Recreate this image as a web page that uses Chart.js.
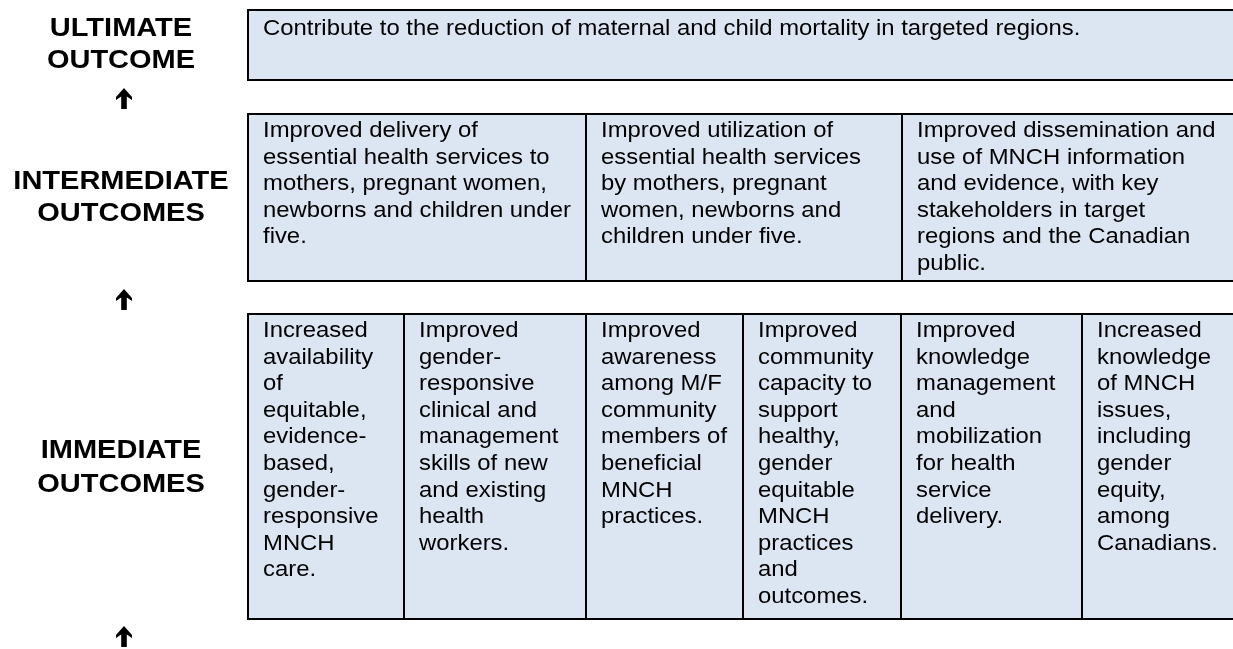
<!DOCTYPE html>
<html>
<head>
<meta charset="utf-8">
<script src="https://cdn.jsdelivr.net/npm/chart.js@4.4.1/dist/chart.umd.min.js"></script>
<style>
  html, body { margin: 0; padding: 0; background: #fff; }
  #wrap { width: 1233px; height: 649px; }
</style>
</head>
<body>
<div id="wrap"><canvas id="c"></canvas></div>
<script>
// --- content (text of each level, already broken into lines as in the source) ---
const levelLabels = [["ULTIMATE", "OUTCOME"], ["INTERMEDIATE", "OUTCOMES"], ["IMMEDIATE", "OUTCOMES"]];

const ultimateOutcome = [
  ["Contribute to the reduction of maternal and child mortality in targeted regions."]
];

const intermediateOutcomes = [
  ["Improved delivery of", "essential health services to", "mothers, pregnant women,", "newborns and children under", "five."],
  ["Improved utilization of", "essential health services", "by mothers, pregnant", "women, newborns and", "children under five."],
  ["Improved dissemination and", "use of MNCH information", "and evidence, with key", "stakeholders in target", "regions and the Canadian", "public."]
];

const immediateOutcomes = [
  ["Increased", "availability", "of", "equitable,", "evidence-", "based,", "gender-", "responsive", "MNCH", "care."],
  ["Improved", "gender-", "responsive", "clinical and", "management", "skills of new", "and existing", "health", "workers."],
  ["Improved", "awareness", "among M/F", "community", "members of", "beneficial", "MNCH", "practices."],
  ["Improved", "community", "capacity to", "support", "healthy,", "gender", "equitable", "MNCH", "practices", "and", "outcomes."],
  ["Improved", "knowledge", "management", "and", "mobilization", "for health", "service", "delivery."],
  ["Increased", "knowledge", "of MNCH", "issues,", "including", "gender", "equity,", "among", "Canadians."]
];

// --- layout, in the units of the chart's x / y scales ---
const rows = [
  { cells: ultimateOutcome,      edges: [248, 1234],                          top: 10,  bottom: 80,  textTop: 25, label: [36, 68],   arrow: 88 },
  { cells: intermediateOutcomes, edges: [248, 586, 902, 1234],                top: 114, bottom: 281, textTop: 23, label: [189, 221], arrow: 289 },
  { cells: immediateOutcomes,    edges: [248, 404, 586, 743, 901, 1082, 1234], top: 314, bottom: 619, textTop: 23, label: [458, 492], arrow: 626 }
];

const FILL = '#dce6f2';
const LINE = '#000000';
const CELL_FONT = '22px "Liberation Sans", Arial, sans-serif';
const LABEL_FONT = 'bold 25px "Liberation Sans", Arial, sans-serif';
const LINE_H = 26.6;

function stretchText(ctx, txt, x, y, sx) {
  ctx.save();
  ctx.translate(x, y);
  ctx.scale(sx, 1);
  ctx.fillText(txt, 0, 0);
  ctx.restore();
}

const logicModel = {
  id: 'logicModel',
  afterDraw(chart) {
    const ctx = chart.ctx;
    const xs = chart.scales.x, ys = chart.scales.y;
    const px = v => xs.getPixelForValue(v);
    const py = v => ys.getPixelForValue(v);

    rows.forEach((row, ri) => {
      const y0 = py(row.top), y1 = py(row.bottom);

      // cells
      row.cells.forEach((lines, ci) => {
        const x0 = px(row.edges[ci]), x1 = px(row.edges[ci + 1]);
        ctx.fillStyle = FILL;
        ctx.fillRect(x0, y0, x1 - x0, y1 - y0);
        ctx.strokeStyle = LINE;
        ctx.lineWidth = 2;
        ctx.strokeRect(x0, y0, x1 - x0, y1 - y0);

        ctx.fillStyle = '#000';
        ctx.font = CELL_FONT;
        ctx.textAlign = 'left';
        ctx.textBaseline = 'alphabetic';
        lines.forEach((ln, li) => {
          stretchText(ctx, ln, x0 + 15, py(row.top + row.textTop + li * LINE_H), 1.085);
        });
      });

      // level label
      ctx.fillStyle = '#000';
      ctx.font = LABEL_FONT;
      ctx.textAlign = 'center';
      levelLabels[ri].forEach((t, k) => stretchText(ctx, t, px(121), py(row.label[k]), 1.16));

      // heavy upward arrow under the label
      const ax = px(124), at = py(row.arrow);
      const ab = py(row.arrow + 21);
      ctx.beginPath();
      ctx.moveTo(ax, at);
      ctx.lineTo(ax + 8, at + 9);
      ctx.lineTo(ax + 8, at + 12);
      ctx.lineTo(ax + 2.8, at + 8.5);
      ctx.lineTo(ax + 2.8, ab);
      ctx.lineTo(ax - 2.8, ab);
      ctx.lineTo(ax - 2.8, at + 8.5);
      ctx.lineTo(ax - 8, at + 12);
      ctx.lineTo(ax - 8, at + 9);
      ctx.closePath();
      ctx.fill();
    });
  }
};

new Chart(document.getElementById('c'), {
  type: 'scatter',
  data: { datasets: [{ data: [], pointRadius: 0 }] },
  options: {
    responsive: true,
    maintainAspectRatio: false,
    animation: false,
    layout: { padding: 0 },
    plugins: { legend: { display: false }, tooltip: { enabled: false } },
    scales: {
      x: { type: 'linear', min: 0, max: 1233, display: false },
      y: { type: 'linear', min: 0, max: 649, reverse: true, display: false }
    }
  },
  plugins: [logicModel]
});
</script>
</body>
</html>
